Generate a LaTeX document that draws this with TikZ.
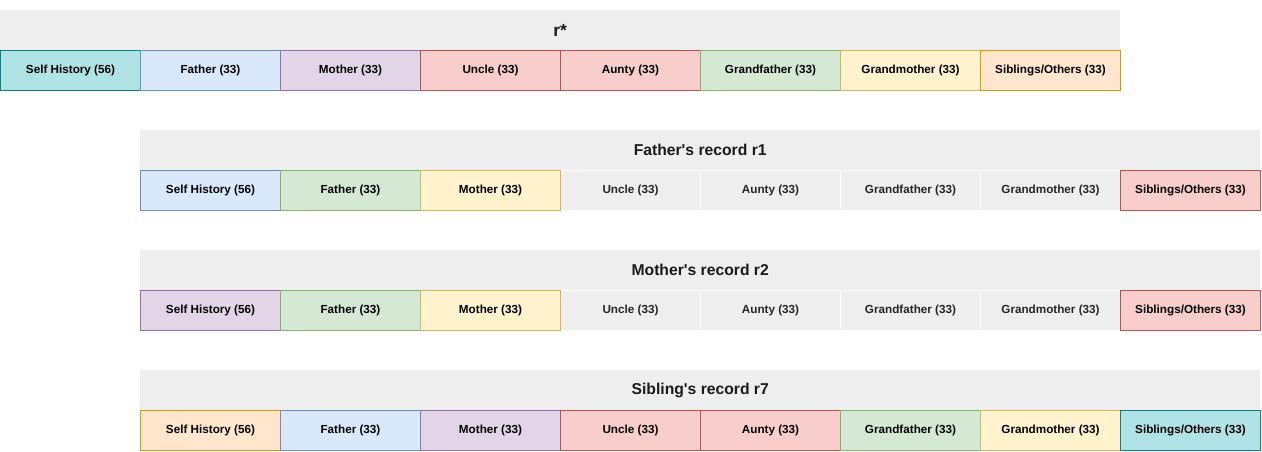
\documentclass[tikz,border=0pt]{standalone}
\usepackage{fontspec}
\setmainfont{Liberation Sans}
\definecolor{tealF}{HTML}{B0E3E6}\definecolor{tealS}{HTML}{0E8088}
\definecolor{blueF}{HTML}{DAE8FC}\definecolor{blueS}{HTML}{6C8EBF}
\definecolor{purF}{HTML}{E1D5E7}\definecolor{purS}{HTML}{9673A6}
\definecolor{redF}{HTML}{F8CECC}\definecolor{redS}{HTML}{B85450}
\definecolor{grnF}{HTML}{D5E8D4}\definecolor{grnS}{HTML}{82B366}
\definecolor{yelF}{HTML}{FFF2CC}\definecolor{yelS}{HTML}{D6B656}
\definecolor{orgF}{HTML}{FFE6CC}\definecolor{orgS}{HTML}{D79B00}
\definecolor{gryF}{HTML}{EEEEEE}
\definecolor{hdrT}{HTML}{1A1A1A}
\newcommand\mkcell[5]{\node[cellbox,#4] (#1) at (#2,#3) {#5};}
\tikzset{
  cellbox/.style={anchor=north west,minimum width=140pt,minimum height=40pt,inner sep=0pt,line width=1pt,
    font=\fontsize{11.7}{14}\selectfont\bfseries,text=black},
  teal/.style={fill=tealF,draw=tealS},
  blue/.style={fill=blueF,draw=blueS},
  pur/.style={fill=purF,draw=purS},
  red/.style={fill=redF,draw=redS},
  grn/.style={fill=grnF,draw=grnS},
  yel/.style={fill=yelF,draw=yelS},
  org/.style={fill=orgF,draw=orgS},
  gry/.style={fill=gryF,draw=white,text=black!85},
  hdr/.style={anchor=north west,minimum width=1120pt,minimum height=40pt,inner sep=0pt,fill=gryF,
    font=\fontsize{15.7}{18}\selectfont\bfseries,text=hdrT},
}
\begin{document}
\begin{tikzpicture}[x=1pt,y=-1pt]
\useasboundingbox (0,0) rectangle (1262,451);
% Row 1
\node[hdr,font=\fontsize{17.5}{20}\selectfont\bfseries] (h0) at (0,10) {r*};
\mkcell{a0}{0}{50}{teal}{Self History (56)}
\mkcell{a1}{140}{50}{blue}{Father (33)}
\mkcell{a2}{280}{50}{pur}{Mother (33)}
\mkcell{a3}{420}{50}{red}{Uncle (33)}
\mkcell{a4}{560}{50}{red}{Aunty (33)}
\mkcell{a5}{700}{50}{grn}{Grandfather (33)}
\mkcell{a6}{840}{50}{yel}{Grandmother (33)}
\mkcell{a7}{980}{50}{org}{Siblings/Others (33)}
% Row 2
\node[hdr] (h1) at (140,130) {Father\textquotesingle s record r1};
\mkcell{b3}{560}{170}{gry}{Uncle (33)}
\mkcell{b4}{700}{170}{gry}{Aunty (33)}
\mkcell{b5}{840}{170}{gry}{Grandfather (33)}
\mkcell{b6}{980}{170}{gry}{Grandmother (33)}
\mkcell{b0}{140}{170}{blue}{Self History (56)}
\mkcell{b1}{280}{170}{grn}{Father (33)}
\mkcell{b2}{420}{170}{yel}{Mother (33)}
\mkcell{b7}{1120}{170}{red}{Siblings/Others (33)}
% Row 3
\node[hdr] (h2) at (140,250) {Mother\textquotesingle s record r2};
\mkcell{c3}{560}{290}{gry}{Uncle (33)}
\mkcell{c4}{700}{290}{gry}{Aunty (33)}
\mkcell{c5}{840}{290}{gry}{Grandfather (33)}
\mkcell{c6}{980}{290}{gry}{Grandmother (33)}
\mkcell{c0}{140}{290}{pur}{Self History (56)}
\mkcell{c1}{280}{290}{grn}{Father (33)}
\mkcell{c2}{420}{290}{yel}{Mother (33)}
\mkcell{c7}{1120}{290}{red}{Siblings/Others (33)}
% Row 4
\node[hdr] (h3) at (140,370) {Sibling\textquotesingle s record r7};
\mkcell{d0}{140}{410}{org}{Self History (56)}
\mkcell{d1}{280}{410}{blue}{Father (33)}
\mkcell{d2}{420}{410}{pur}{Mother (33)}
\mkcell{d3}{560}{410}{red}{Uncle (33)}
\mkcell{d4}{700}{410}{red}{Aunty (33)}
\mkcell{d5}{840}{410}{grn}{Grandfather (33)}
\mkcell{d6}{980}{410}{yel}{Grandmother (33)}
\mkcell{d7}{1120}{410}{teal}{Siblings/Others (33)}
\end{tikzpicture}
\end{document}
